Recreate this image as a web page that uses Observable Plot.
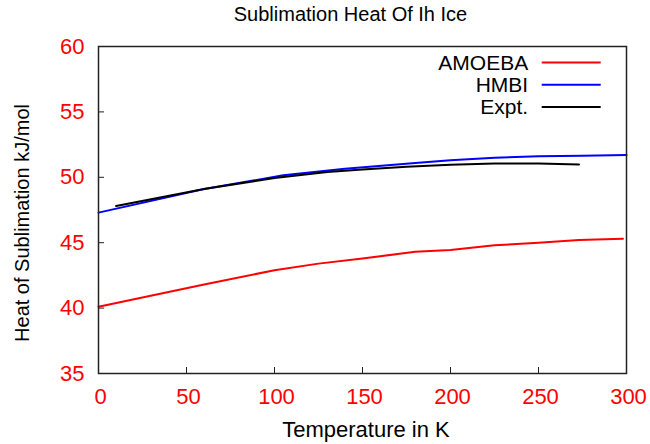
<!DOCTYPE html>
<html>
<head>
<meta charset="utf-8">
<script src="https://cdn.jsdelivr.net/npm/d3@7"></script>
<script src="https://cdn.jsdelivr.net/npm/@observablehq/plot@0.6"></script>
<style>
  html, body { margin: 0; padding: 0; background: #fff; }
  #chart svg { display: block; }
</style>
</head>
<body>
<div id="chart"></div>
<script>
// ---- chart text ----
const titleText = "Sublimation Heat Of Ih Ice";
const xLabel = "Temperature in K";
const yLabel = "Heat of Sublimation kJ/mol";

// ---- series ----
const seriesNames = ["AMOEBA", "HMBI", "Expt."];
const seriesColors = ["#ff0000", "#0000ff", "#000000"];

const amoebaT = [0, 60, 100, 125, 150, 180, 200, 225, 250, 273, 298];
const amoebaH = [40.1, 41.8, 42.9, 43.4, 43.8, 44.3, 44.45, 44.8, 45.0, 45.2, 45.3];

const hmbiT = [0, 60, 105, 140, 180, 200, 225, 250, 275, 300];
const hmbiH = [47.3, 49.1, 50.15, 50.65, 51.1, 51.3, 51.5, 51.6, 51.65, 51.7];

const exptT = [10, 60, 100, 130, 150, 175, 200, 225, 250, 273];
const exptH = [47.8, 49.1, 49.95, 50.4, 50.6, 50.8, 50.95, 51.05, 51.05, 50.98];

// ---- ticks ----
const xTicks = [0, 50, 100, 150, 200, 250, 300];
const yTicks = [35, 40, 45, 50, 55, 60];

// ---- build table ----
const seriesT = [amoebaT, hmbiT, exptT];
const seriesH = [amoebaH, hmbiH, exptH];
const rows = [];
seriesNames.forEach((name, i) => {
  seriesT[i].forEach((t, j) => rows.push({series: name, T: t, H: seriesH[i][j]}));
});

const W = 650, H = 444;
const mTop = 46, mRight = 24, mBottom = 71, mLeft = 98;
const plotW = W - mLeft - mRight, plotH = H - mTop - mBottom;
const font = "'Liberation Sans', Arial, Helvetica, sans-serif";

const marks = [
  Plot.line(rows, {x: "T", y: "H", z: "series", stroke: "series", strokeWidth: 2}),
  Plot.tickX(xTicks, {x: d => d, insetTop: plotH - 6, stroke: "#222", strokeWidth: 1}),
  Plot.tickY(yTicks, {y: d => d, insetRight: plotW - 6, stroke: "#222", strokeWidth: 1}),
  Plot.frame({stroke: "#222", strokeWidth: 1.5}),
  Plot.axisX({ticks: xTicks, tickSize: 0, tickPadding: 15, dx: 2, fontSize: 22, color: "#ff0000", label: null}),
  Plot.axisY({ticks: yTicks, tickSize: 0, tickPadding: 14, fontSize: 22, color: "#ff0000", label: null}),
  Plot.text([titleText], {text: d => d, frameAnchor: "top", textAnchor: "middle", dx: -12, dy: -26, lineAnchor: "bottom", fontSize: 20, fill: "#000"}),
  Plot.text([xLabel], {text: d => d, frameAnchor: "bottom", textAnchor: "middle", dx: 3.5, dy: 63, lineAnchor: "bottom", fontSize: 22, fill: "#000"}),
  Plot.text([yLabel], {text: d => d, frameAnchor: "left", textAnchor: "middle", rotate: -90, dx: -76, dy: 13, lineAnchor: "middle", fontSize: 20, fill: "#000"})
];

// legend labels
seriesNames.forEach((name, i) => {
  marks.push(Plot.text([name], {text: d => d, frameAnchor: "top-right", textAnchor: "end", lineAnchor: "middle",
    dx: -98.3, dy: 16.5 + i * 22.3, fontSize: 21, fill: "#000"}));
});

const chart = Plot.plot({
  width: W, height: H,
  marginTop: mTop, marginRight: mRight, marginBottom: mBottom, marginLeft: mLeft,
  style: {fontFamily: font, background: "#fff", overflow: "visible"},
  x: {domain: [0, 300]},
  y: {domain: [35, 60]},
  color: {domain: seriesNames, range: seriesColors},
  marks
});

// legend swatches
const svg = d3.select(chart);
const lg = svg.append("g").attr("class", "legend-swatches");
seriesNames.forEach((name, i) => {
  const yy = mTop + 16.5 + i * 22.3;
  lg.append("line")
    .attr("x1", 541.7).attr("x2", 600.7)
    .attr("y1", yy).attr("y2", yy)
    .attr("stroke", seriesColors[i]).attr("stroke-width", 2);
});

document.getElementById("chart").appendChild(chart);
</script>
</body>
</html>
